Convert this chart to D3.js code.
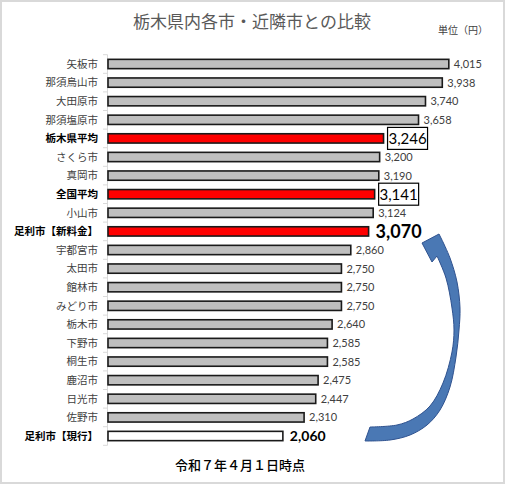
<!DOCTYPE html>
<html lang="ja">
<head>
<meta charset="UTF-8">
<title>栃木県内各市・近隣市との比較</title>
<script src="https://d3js.org/d3.v7.min.js"></script>
<style>
  body { margin: 0; background: #fff; }
  svg { display: block; }
  .cat { font-family: "Noto Sans CJK JP", sans-serif; font-size: 10.5px; fill: #404040; }
  .cat.bold { font-weight: bold; fill: #000; }
  .val { font-family: Lato, "Noto Sans CJK JP", sans-serif; font-size: 11px; fill: #404040; }
  .title { font-family: "Noto Sans CJK JP", sans-serif; font-size: 17px; fill: #595959; }
  .unit { font-family: "Noto Sans CJK JP", sans-serif; font-size: 10px; fill: #404040; }
  .foot { font-family: "Noto Sans CJK JP", sans-serif; font-size: 13px; font-weight: 500; fill: #000; }
</style>
</head>
<body>
<svg id="chart" width="505" height="484"></svg>
<script>
const categories = ["矢板市", "那須烏山市", "大田原市", "那須塩原市", "栃木県平均", "さくら市", "真岡市",
  "全国平均", "小山市", "足利市【新料金】", "宇都宮市", "太田市", "館林市", "みどり市", "栃木市",
  "下野市", "桐生市", "鹿沼市", "日光市", "佐野市", "足利市【現行】"]
const values = [4015, 3938, 3740, 3658, 3246, 3200, 3190, 3141, 3124, 3070, 2860, 2750, 2750, 2750,
  2640, 2585, 2585, 2475, 2447, 2310, 2060]
const averages = ["栃木県平均", "全国平均"]
const newRate = "足利市【新料金】"
const currentRate = "足利市【現行】"
const titleText = "栃木県内各市・近隣市との比較"
const unitText = "単位（円）"
const footText = "令和７年４月１日時点"

const data = categories.map((c, i) => ({ name: c, value: values[i] }))
const svg = d3.select("#chart")
const fmt = d3.format(",")

// frame
svg.append("rect").attr("x", 1).attr("y", 1).attr("width", 503).attr("height", 482)
  .attr("fill", "#fff").attr("stroke", "#d9d9d9").attr("stroke-width", 2)

let x = d3.scaleLinear().domain([0, 4500]).range([108, 490])
let y = d3.scaleBand().domain(categories).range([54.7, 445.3]).paddingInner(0.5).paddingOuter(0.25)
let gap = (y.step() - y.bandwidth()) / 2

// axis line + ticks between categories
let ax = svg.append("g").attr("stroke", "#d9d9d9").attr("stroke-width", 1)
ax.append("line").attr("x1", 107.5).attr("x2", 107.5)
  .attr("y1", y(categories[0]) - gap).attr("y2", y(categories[categories.length - 1]) + y.bandwidth() + gap)
let bounds = categories.map(c => y(c) - gap)
bounds.push(y(categories[categories.length - 1]) + y.bandwidth() + gap)
ax.selectAll(".tick").data(bounds).enter().append("line")
  .attr("x1", 103).attr("x2", 107.5).attr("y1", d => d).attr("y2", d => d)

function fillOf(d) {
  if (averages.includes(d.name) || d.name === newRate) return "#ff0000"
  if (d.name === currentRate) return "#ffffff"
  return "#bfbfbf"
}
let isBold = d => averages.includes(d.name) || d.name === newRate || d.name === currentRate

// bars
svg.selectAll(".bar").data(data).enter().append("rect")
  .attr("x", x(0)).attr("y", d => y(d.name))
  .attr("width", d => x(d.value) - x(0)).attr("height", y.bandwidth())
  .attr("fill", fillOf).attr("stroke", "#1a1a1a").attr("stroke-width", 1.6)

// category labels
svg.selectAll(".cat").data(data).enter().append("text")
  .attr("class", d => isBold(d) ? "cat bold" : "cat")
  .attr("x", 98).attr("y", d => y(d.name) + y.bandwidth() / 2).attr("dy", "0.36em")
  .attr("text-anchor", "end").text(d => d.name)

// value labels
data.forEach(d => {
  let cy = y(d.name) + y.bandwidth() / 2
  if (averages.includes(d.name)) {
    let bx = x(d.value) + 4
    svg.append("rect").attr("x", bx).attr("y", cy - 11).attr("width", 40).attr("height", 22)
      .attr("fill", "#fff").attr("stroke", "#000").attr("stroke-width", 1.2)
    svg.append("text").attr("class", "val").attr("x", bx + 20).attr("y", cy).attr("dy", "0.36em")
      .attr("text-anchor", "middle").style("font-size", "15px").style("fill", "#000").text(fmt(d.value))
  } else if (d.name === newRate) {
    svg.append("text").attr("class", "val").attr("x", x(d.value) + 7).attr("y", cy).attr("dy", "0.36em")
      .style("font-size", "18px").style("font-weight", "bold").style("fill", "#000").text(fmt(d.value))
  } else if (d.name === currentRate) {
    svg.append("text").attr("class", "val").attr("x", x(d.value) + 7).attr("y", cy).attr("dy", "0.36em")
      .style("font-size", "14px").style("font-weight", "bold").style("fill", "#000").text(fmt(d.value))
  } else {
    svg.append("text").attr("class", "val").attr("x", x(d.value) + 5).attr("y", cy).attr("dy", "0.36em")
      .text(fmt(d.value))
  }
})

// titles
svg.append("text").attr("class", "title").attr("x", 252).attr("y", 28).attr("text-anchor", "middle").text(titleText)
svg.append("text").attr("class", "unit").attr("x", 488).attr("y", 34).attr("text-anchor", "end").text(unitText)
svg.append("text").attr("class", "foot").attr("x", 240).attr("y", 470).attr("text-anchor", "middle").text(footText)

// curved arrow from current rate up to new rate
let outer = [[365, 441], [390, 440], [410, 435], [427, 425], [440, 410], [450, 387], [456, 357],
  [459, 330], [460, 308], [457, 282], [450, 258], [442, 240]]
let head = [[439, 234], [422, 243], [432, 262], [437, 256]]
let inner = [[437, 256], [446, 278], [452, 308], [454, 330], [452, 352], [443, 383], [430, 406],
  [413, 419], [397, 425], [370, 427]]
let curve = d3.line().curve(d3.curveCatmullRom)
let p = curve(outer) + head.map(q => "L" + q[0] + "," + q[1]).join("") +
  curve(inner.slice(0)).replace(/^M/, "L") + "Z"
svg.append("path").attr("d", p).attr("fill", "#4a78b4").attr("stroke", "#2f528f").attr("stroke-width", 1)
</script>
</body>
</html>
